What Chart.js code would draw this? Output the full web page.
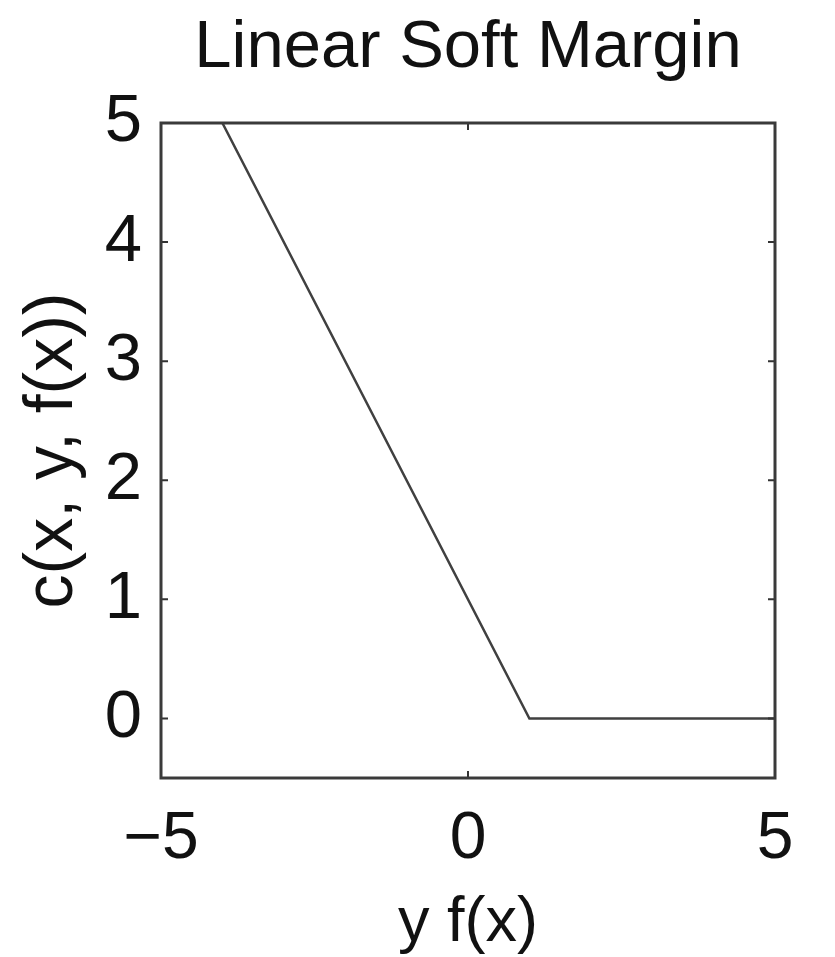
<!DOCTYPE html>
<html>
<head>
<meta charset="utf-8">
<script src="https://cdn.jsdelivr.net/npm/chart.js@4"></script>
<style>
  html, body { margin: 0; padding: 0; background: #fff; }
  #wrap { width: 835px; height: 957px; }
</style>
</head>
<body>
<div id="wrap"><canvas id="c" width="835" height="957"></canvas></div>
<script>
// Data
const xValues = [-4, 1, 5];
const yValues = [5, 0, 0];
const xTicks = [-5, 0, 5];
const yTicks = [0, 1, 2, 3, 4, 5];
const titleText = 'Linear Soft Margin';
const xLabel = 'y f(x)';
const yLabel = 'c(x, y, f(x))';

const points = xValues.map((x, i) => ({ x: x, y: yValues[i] }));
const fontFamily = '"Liberation Sans", Arial, Helvetica, sans-serif';
const ink = '#111';
const fmt = v => (v < 0 ? '\u2212' + Math.abs(v) : String(v));

const boxTicks = {
  id: 'boxTicks',
  afterDatasetsDraw(chart) {
    const { ctx, chartArea: a, scales } = chart;
    ctx.save();
    ctx.strokeStyle = '#333';
    ctx.lineWidth = 2;
    const L = 7;
    ctx.beginPath();
    xTicks.forEach(v => {
      const px = scales.x.getPixelForValue(v);
      ctx.moveTo(px, a.bottom); ctx.lineTo(px, a.bottom - L);
      ctx.moveTo(px, a.top); ctx.lineTo(px, a.top + L);
    });
    yTicks.forEach(v => {
      const py = scales.y.getPixelForValue(v);
      ctx.moveTo(a.left, py); ctx.lineTo(a.left + L, py);
      ctx.moveTo(a.right, py); ctx.lineTo(a.right - L, py);
    });
    ctx.stroke();
    ctx.lineWidth = 3;
    ctx.strokeStyle = '#3a3a3a';
    ctx.strokeRect(a.left, a.top, a.right - a.left, a.bottom - a.top);
    ctx.restore();
  }
};

new Chart(document.getElementById('c'), {
  type: 'scatter',
  data: {
    datasets: [{
      data: points,
      showLine: true,
      borderColor: '#404040',
      borderWidth: 2.5,
      pointRadius: 0,
      fill: false,
      tension: 0
    }]
  },
  options: {
    responsive: false,
    animation: false,
    devicePixelRatio: 1,
    layout: { padding: { left: 0, right: 60, top: 0, bottom: 0 } },
    plugins: {
      legend: { display: false },
      tooltip: { enabled: false },
      title: { display: false }
    },
    scales: {
      x: {
        type: 'linear',
        position: 'bottom',
        min: -5, max: 5,
        afterBuildTicks: s => { s.ticks = xTicks.map(v => ({ value: v })); },
        afterFit: s => { s.height = 179; },
        grid: { display: false, drawTicks: false },
        border: { display: false },
        ticks: {
          color: ink,
          padding: 29,
          maxRotation: 0,
          autoSkip: false,
          font: { family: fontFamily, size: 66, lineHeight: 1 },
          callback: v => fmt(v)
        },
        title: {
          display: true,
          text: xLabel,
          color: ink,
          font: { family: fontFamily, size: 63, lineHeight: 1 },
          padding: { top: 0, bottom: 2 }
        }
      },
      xTop: {
        type: 'linear',
        position: 'top',
        min: -5, max: 5,
        afterFit: s => { s.height = 123; },
        grid: { display: false, drawTicks: false },
        border: { display: false },
        ticks: { display: false },
        title: {
          display: true,
          text: titleText,
          color: ink,
          font: { family: fontFamily, size: 67, lineHeight: 1 },
          padding: { top: 15, bottom: 0 }
        }
      },
      y: {
        type: 'linear',
        min: -0.5, max: 5,
        afterBuildTicks: s => { s.ticks = yTicks.map(v => ({ value: v })); },
        afterFit: s => { s.width = 161; },
        grid: { display: false, drawTicks: false },
        border: { display: false },
        ticks: {
          color: ink,
          padding: 19,
          autoSkip: false,
          font: { family: fontFamily, size: 67, lineHeight: 1 },
          callback: v => fmt(v)
        },
        title: {
          display: true,
          text: yLabel,
          color: ink,
          font: { family: fontFamily, size: 68, lineHeight: 1 },
          padding: { top: 19, bottom: 0 }
        }
      }
    }
  },
  plugins: [boxTicks]
});
</script>
</body>
</html>
